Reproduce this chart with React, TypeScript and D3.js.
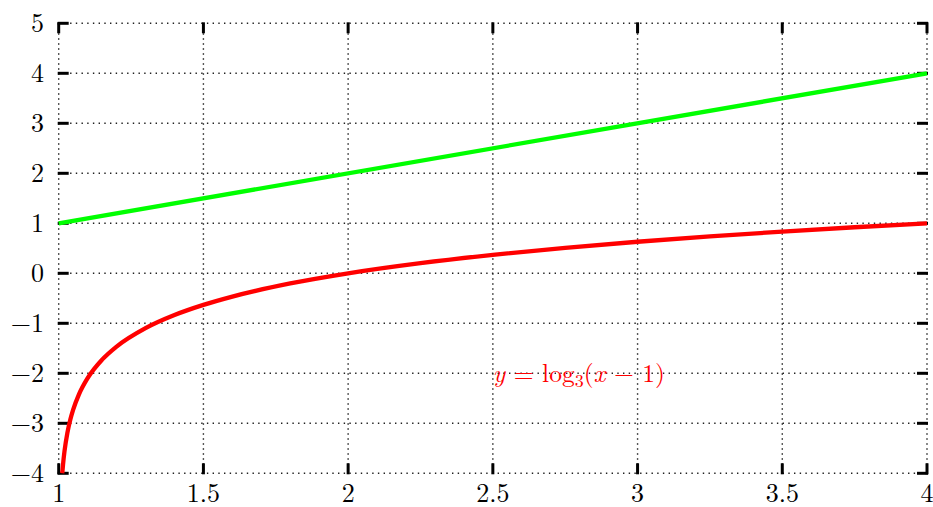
import React from "react";
import * as d3 from "d3";

const xTicks = [1, 1.5, 2, 2.5, 3, 3.5, 4];
const xTickLabels = ["1", "1.5", "2", "2.5", "3", "3.5", "4"];
const yTicks = [-4, -3, -2, -1, 0, 1, 2, 3, 4, 5];
const yTickLabels = ["−4", "−3", "−2", "−1", "0", "1", "2", "3", "4", "5"];

const greenX = [1, 4];
const greenY = [1, 4];

const redX = [1.0123, 1.015, 1.02, 1.03, 1.04, 1.05, 1.07, 1.1, 1.15, 1.2, 1.3, 1.4, 1.5, 1.6, 1.8, 2.0, 2.25, 2.5, 2.75, 3.0, 3.25, 3.5, 3.75, 4.0];
const redY = [-4.0, -3.823, -3.561, -3.192, -2.93, -2.727, -2.421, -2.096, -1.727, -1.465, -1.096, -0.834, -0.631, -0.465, -0.203, 0, 0.203, 0.369, 0.509, 0.631, 0.738, 0.834, 0.921, 1.0];

const labelX = 2.5;
const labelY = -2;

const W = 933;
const H = 507;
const left = 58.7;
const right = 927;
const top = 23.3;
const bottom = 473.3;

export default function App() {
  const x = d3.scaleLinear().domain([1, 4]).range([left, right]);
  const y = d3.scaleLinear().domain([-4, 5]).range([bottom, top]);
  const line = d3
    .line<[number, number]>()
    .x((d) => x(d[0]))
    .y((d) => y(d[1]))
    .curve(d3.curveMonotoneX);
  const green = greenX.map((v, i) => [v, greenY[i]] as [number, number]);
  const red = redX.map((v, i) => [v, redY[i]] as [number, number]);
  const font = "'Latin Modern Roman', 'CMU Serif', 'Liberation Serif', serif";
  const tl = 10;
  const tw = 3;
  return (
    <svg
      width={W}
      height={H}
      style={{ position: "absolute", left: 0, top: 0, display: "block", background: "#fff" }}
    >
      {/* grid */}
      <g stroke="#222" strokeWidth={1.4}>
        {xTicks.map((t) => (
          <line key={"gx" + t} x1={x(t)} x2={x(t)} y1={top} y2={bottom} strokeDasharray="1.4,3.6" />
        ))}
        {yTicks.map((t) => (
          <line key={"gy" + t} x1={left} x2={right} y1={y(t)} y2={y(t)} strokeDasharray="1.4,4.3" />
        ))}
      </g>
      {/* ticks */}
      <g stroke="#000" strokeWidth={tw}>
        {xTicks.map((t) => (
          <g key={"tx" + t}>
            <line x1={x(t)} x2={x(t)} y1={bottom + 1} y2={bottom - tl} />
            <line x1={x(t)} x2={x(t)} y1={top - 1} y2={top + tl} />
          </g>
        ))}
        {yTicks.map((t) => (
          <g key={"ty" + t}>
            <line x1={left - 1} x2={left + tl} y1={y(t)} y2={y(t)} />
            <line x1={right + 1} x2={right - tl} y1={y(t)} y2={y(t)} />
          </g>
        ))}
      </g>
      {/* lines */}
      <path d={line(green) || ""} fill="none" stroke="#00ff00" strokeWidth={4.3} />
      <path d={line(red) || ""} fill="none" stroke="#ff0000" strokeWidth={4.3} />
      {/* tick labels */}
      <g fontFamily={font} fontSize={26} fill="#000">
        {xTicks.map((t, i) => (
          <text key={"lx" + t} x={x(t)} y={501.5} textAnchor="middle">
            {xTickLabels[i]}
          </text>
        ))}
        {yTicks.map((t, i) => (
          <text key={"ly" + t} x={44} y={y(t) + 9} textAnchor="end">
            {yTickLabels[i]}
          </text>
        ))}
      </g>
      <text x={x(labelX)} y={y(labelY) + 8.5} fontFamily={font} fontSize={25.5} fill="#ff0000">
        <tspan fontStyle="italic">y</tspan>
        <tspan> = log</tspan>
        <tspan fontSize={18} dy={5}>3</tspan>
        <tspan dy={-5}>(</tspan>
        <tspan fontStyle="italic">x</tspan>
        <tspan> − 1)</tspan>
      </text>
    </svg>
  );
}
